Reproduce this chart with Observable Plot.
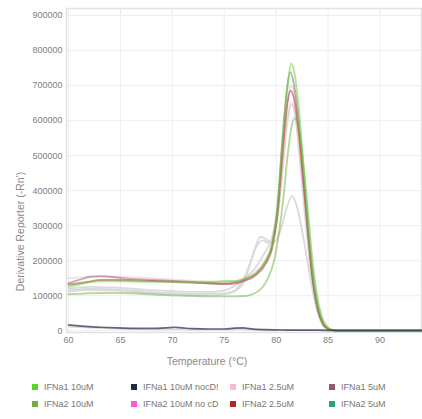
<!DOCTYPE html>
<html><head><meta charset="utf-8">
<script src="https://cdn.jsdelivr.net/npm/d3@7"></script>
<script src="https://cdn.jsdelivr.net/npm/@observablehq/plot@0.6"></script>
<style>
body{margin:0;background:#fff;font-family:"Liberation Sans",Arial,sans-serif;}
#wrap{position:relative;width:422px;height:419px;overflow:hidden;}
#legend{position:absolute;left:0;top:370px;width:422px;height:49px;}
.item{position:absolute;font-size:9px;color:#777;white-space:nowrap;line-height:10px;}
.sw{position:absolute;left:0;top:2px;width:6px;height:6px;}
.lb{position:absolute;left:12px;top:0;}
</style></head>
<body><div id="wrap"><div id="chart"></div><div id="legend"></div></div>
<script>
// ---- data (temperature °C, derivative reporter -Rn') ----
const legendNames = ["IFNa1 10uM","IFNa2 10uM","IFNa1 10uM nocD!","IFNa2 10uM no cD","IFNa1 2.5uM","IFNa2 2.5uM","IFNa1 5uM","IFNa2 5uM"];
const legendColors = ["#55d52a","#70b040","#1f2d4a","#ff5ad6","#f7bcc8","#b22525","#8c5f68","#2ea07a"];
const xTicks = [60,65,70,75,80,85,90];
const yTicks = [0,100000,200000,300000,400000,500000,600000,700000,800000,900000];

const ifna1_10uM = [[60,126000],[61,132000],[62,139000],[63,141000],[65,141000],[67,140000],[70,139000],[72,138000],[74,140000],[75,142000],[76,142000],[77,150000],[78,162000],[79,200000],[79.6,245000],[80.1,340000],[80.6,550000],[81.1,700000],[81.45,763000],[81.8,730000],[82.1,660000],[82.5,520000],[83,330000],[83.5,170000],[84,75000],[84.5,25000],[85,7000],[85.5,1500],[86,0],[94,0]];
const ifna2_10uM = [[60,104000],[62,107000],[64,108000],[66,107000],[68,104000],[70,101000],[72,99000],[74,98000],[76,98000],[77,99000],[77.6,103000],[78.2,112000],[78.7,125000],[79.1,144000],[79.8,200000],[80.3,286000],[80.7,380000],[81.1,500000],[81.5,585000],[81.8,607000],[82.1,590000],[82.5,510000],[83,360000],[83.5,200000],[84,90000],[84.5,32000],[85,9000],[85.5,2000],[86,0],[94,0]];
const ifna1_10uM_nocD = [[60,17000],[61,14000],[62,11500],[63,10000],[64.7,8000],[66,7000],[68,6500],[69.3,8000],[70.2,10000],[71,8000],[72,6000],[73.5,5000],[75,5000],[76,7500],[76.8,8000],[77.8,4500],[79,3000],[81,2000],[84,1500],[87,1000],[94,800]];
const ifna1_2_5uM = [[60,150000],[61,152000],[62,153000],[64,154000],[66,153000],[68,150000],[70,146000],[72,143000],[74,140000],[75,139000],[76,141000],[77,150000],[78,168000],[79,205000],[79.6,248000],[80.1,335000],[80.6,490000],[81,600000],[81.5,652000],[81.9,615000],[82.3,520000],[82.7,400000],[83.1,270000],[83.6,135000],[84.1,55000],[84.6,17000],[85.1,4000],[85.6,800],[86,0],[94,0]];
const ifna2_2_5uM = [[60,132000],[62,140000],[63,145000],[65,145000],[68,142000],[70,140000],[73,136000],[75,133000],[76,135000],[77,143000],[78,158000],[79,192000],[79.6,235000],[80.1,325000],[80.6,500000],[81,630000],[81.4,685000],[81.8,650000],[82.2,560000],[82.6,430000],[83,300000],[83.5,150000],[84,62000],[84.5,20000],[85,5000],[85.5,1000],[86,0],[94,0]];
const ifna1_5uM = [[60,136000],[61,145000],[62,154000],[63,156000],[64,154000],[66,148000],[68,145000],[70,142000],[72,139000],[74,136000],[75,135000],[76,138000],[77,146000],[78,162000],[79,198000],[79.6,242000],[80.1,340000],[80.6,540000],[81,680000],[81.35,738000],[81.7,705000],[82.1,620000],[82.5,490000],[83,310000],[83.5,155000],[84,65000],[84.5,20000],[85,5000],[85.5,1000],[86,0],[94,0]];

// unselected wells (grey)
const well_a = [[60,115000],[62,120000],[64,119000],[66,115000],[68,110000],[70,107000],[72,105000],[74,105000],[75,107000],[76,115000],[76.8,145000],[77.5,195000],[78,240000],[78.5,268000],[79,262000],[79.5,250000],[80,258000],[80.5,295000],[81,350000],[81.55,385000],[82,355000],[82.5,285000],[83,200000],[83.5,115000],[84,50000],[84.5,16000],[85,4000],[85.5,800],[86,0],[94,0]];
const well_b = [[60,112000],[62,116000],[64,115000],[66,111000],[68,107000],[70,104000],[72,102000],[74,101000],[75,104000],[76,112000],[77,145000],[77.6,200000],[78.1,240000],[78.7,258000],[79.2,252000],[79.7,268000],[80.2,340000],[80.7,480000],[81.1,600000],[81.5,645000],[81.9,600000],[82.3,480000],[82.8,320000],[83.3,175000],[83.8,80000],[84.3,28000],[84.8,8000],[85.4,1500],[86,0],[94,0]];
const well_c = [[60,120000],[62,125000],[64,124000],[66,120000],[68,116000],[70,113000],[72,111000],[74,111000],[75,115000],[76,128000],[77,150000],[78,180000],[79,228000],[79.6,265000],[80.1,350000],[80.6,520000],[81,640000],[81.45,700000],[81.8,670000],[82.2,560000],[82.6,420000],[83,290000],[83.5,145000],[84,60000],[84.5,19000],[85,5000],[85.5,1000],[86,0],[94,0]];
const well_d = [[60,12000],[62,9000],[64,6500],[66,5000],[68,4000],[70,4500],[72,3500],[75,3000],[76.5,5000],[78,2500],[81,1500],[86,800],[94,500]];

// ---- build tables ----
const toRows = (arr, name) => arr.map(([t, v]) => ({t, v, name}));
const greyRows = [
  ...toRows(well_a, "a"), ...toRows(well_b, "b"), ...toRows(well_c, "c"), ...toRows(well_d, "d")
];
const colorRows = [
  ...toRows(ifna1_2_5uM, "IFNa1 2.5uM"),
  ...toRows(ifna2_2_5uM, "IFNa2 2.5uM"),
  ...toRows(ifna1_5uM, "IFNa1 5uM"),
  ...toRows(ifna2_10uM, "IFNa2 10uM"),
  ...toRows(ifna1_10uM, "IFNa1 10uM")
];
const darkRows = toRows(ifna1_10uM_nocD, "IFNa1 10uM nocD!");

const chart = Plot.plot({
  width: 422,
  height: 370,
  marginLeft: 66,
  marginRight: 1,
  marginTop: 8,
  marginBottom: 38,
  style: {fontFamily: '"Liberation Sans", Arial, sans-serif', color: "#777", background: "#fff"},
  x: {domain: [59.8, 94]},
  y: {domain: [-5000, 920000]},
  color: {domain: legendNames, range: legendColors},
  marks: [
    Plot.gridX(xTicks, {stroke: "#eeeeee", strokeOpacity: 1}),
    Plot.gridY(yTicks, {stroke: "#eeeeee", strokeOpacity: 1}),
    Plot.frame({stroke: "#e2e2e2", strokeWidth: 1.5}),
    Plot.axisX(xTicks, {tickSize: 0, tickPadding: 4, fontSize: 9, label: null, fill: "#808080"}),
    Plot.axisY(yTicks, {tickSize: 0, tickPadding: 4, fontSize: 9, label: null, fill: "#808080", tickFormat: d => String(d)}),
    Plot.line(greyRows, {x: "t", y: "v", z: "name", stroke: "#dadada", strokeWidth: 1.8, curve: "monotone-x"}),
    Plot.line(colorRows, {x: "t", y: "v", z: "name", stroke: "name", strokeOpacity: 0.5, strokeWidth: 1.9, curve: "monotone-x"}),
    Plot.line(darkRows, {x: "t", y: "v", z: "name", stroke: "name", strokeOpacity: 0.7, strokeWidth: 1.7, curve: "monotone-x"}),
    Plot.text(["Temperature (°C)"], {frameAnchor: "bottom", lineAnchor: "middle", textAnchor: "middle", dx: -37, dy: 29, fontSize: 10.5, fill: "#8a8a8a"}),
    Plot.text(["Derivative Reporter (-Rn')"], {frameAnchor: "left", lineAnchor: "middle", textAnchor: "middle", rotate: -90, dx: -46, dy: 61, fontSize: 10.5, fill: "#8a8a8a"})
  ]
});
document.getElementById("chart").appendChild(chart);

// ---- legend ----
const legend = document.getElementById("legend");
const colX = [32, 131, 230, 329];
const rowY = [12, 29];
legendNames.forEach((n, i) => {
  const col = Math.floor(i / 2), row = i % 2;
  const d = document.createElement("div");
  d.className = "item";
  d.style.left = colX[col] + "px";
  d.style.top = rowY[row] + "px";
  d.innerHTML = `<span class="sw" style="background:${legendColors[i]}"></span><span class="lb">${n}</span>`;
  legend.appendChild(d);
});
</script>
</body></html>
